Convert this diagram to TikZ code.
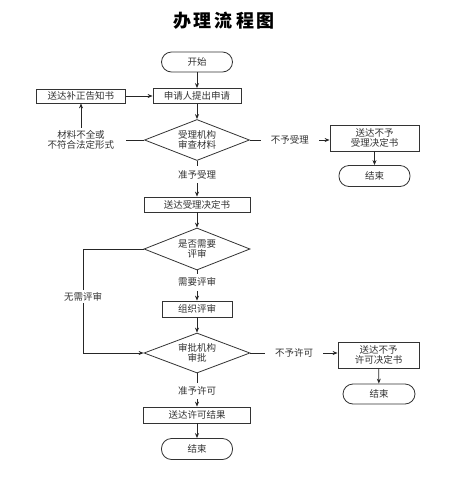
\documentclass[tikz,border=0pt]{standalone}
\usepackage{fontspec}
\newfontfamily\cjk{Noto Sans CJK SC}
\usetikzlibrary{shapes.geometric,arrows.meta}
\tikzset{
  base/.style={draw=black!80, line width=0.8pt, font=\cjk\fontsize{9.5pt}{10.5pt}\selectfont, text=black!80, inner sep=0pt, align=center},
  proc/.style={base, rectangle},
  term/.style={base, rectangle, rounded corners=10pt},
  dec/.style={base, diamond, aspect=2.5},
  arr/.style={draw=black!85, line width=0.8pt, -{Stealth[length=5pt,width=4pt]}},
  ln/.style={draw=black!85, line width=0.8pt},
  lab/.style={fill=white, font=\cjk\fontsize{9.5pt}{10.5pt}\selectfont, text=black!80, align=center, inner xsep=10pt, inner ysep=4pt}
}
\begin{document}
\begin{tikzpicture}[x=1pt,y=-1pt]
\useasboundingbox (0,0) rectangle (456,483);
\node[font=\cjk\bfseries\fontsize{18pt}{20pt}\selectfont] (title) at (224,21) {办\,理\,流\,程\,图};

\node[term, minimum width=71pt, minimum height=20pt] (start) at (197,62) {开始};
\node[proc, minimum width=88pt, minimum height=15pt] (apply) at (197,96) {申请人提出申请};
\node[proc, minimum width=89pt, minimum height=14pt] (notice) at (81,96) {送达补正告知书};
\node[dec, minimum width=105pt, minimum height=41pt] (d1) at (197,140) {受理机构\\审查材料};
\node[proc, minimum width=89pt, minimum height=26pt] (rej1) at (374.5,138) {送达不予\\受理决定书};
\node[term, minimum width=71pt, minimum height=21pt] (end1) at (374.5,176) {结束};
\node[proc, minimum width=106pt, minimum height=15pt] (accept) at (197,204.5) {送达受理决定书};
\node[dec, minimum width=106pt, minimum height=42pt] (d2) at (197,249) {是否需要\\评审};
\node[proc, minimum width=70pt, minimum height=16pt] (review) at (197,309) {组织评审};
\node[dec, minimum width=106pt, minimum height=40pt] (d3) at (197,353) {审批机构\\审批};
\node[proc, minimum width=81pt, minimum height=26pt] (rej2) at (378.5,355) {送达不予\\许可决定书};
\node[term, minimum width=72pt, minimum height=20pt] (end2) at (379,394) {结束};
\node[proc, minimum width=107pt, minimum height=16pt] (result) at (197,415) {送达许可结果};
\node[term, minimum width=71pt, minimum height=21pt] (end3) at (197,449) {结束};
\coordinate (c2) at (83,249);

\draw[arr] (start) -- (apply);
\draw[arr] (notice) -- (apply);
\draw[arr] (apply) -- (d1);
\draw[arr] (d1.west) -| node[lab, inner xsep=12pt, inner ysep=2pt] {材料不全或\\不符合法定形式} (notice.south);
\draw[arr] (d1.east) -- node[lab] {不予受理} (rej1.west |- d1.east);
\draw[arr] (rej1) -- (end1);
\draw[arr] (d1.south) -- node[lab, pos=0.38] {准予受理} (accept.north);
\draw[arr] (accept) -- (d2);
\draw[arr] (d2.west) -- (c2) |- node[lab, pos=0.23, inner ysep=2pt] {无需评审} (d3.west);
\draw[arr] (d2.south) -- node[lab, pos=0.39] {需要评审} (review.north);
\draw[arr] (review) -- (d3);
\draw[arr] (d3.east) -- node[lab] {不予许可} (rej2.west |- d3.east);
\draw[arr] (rej2) -- (end2);
\draw[arr] (d3.south) -- node[lab, pos=0.53] {准予许可} (result.north);
\draw[arr] (result) -- (end3);
\end{tikzpicture}
\end{document}
